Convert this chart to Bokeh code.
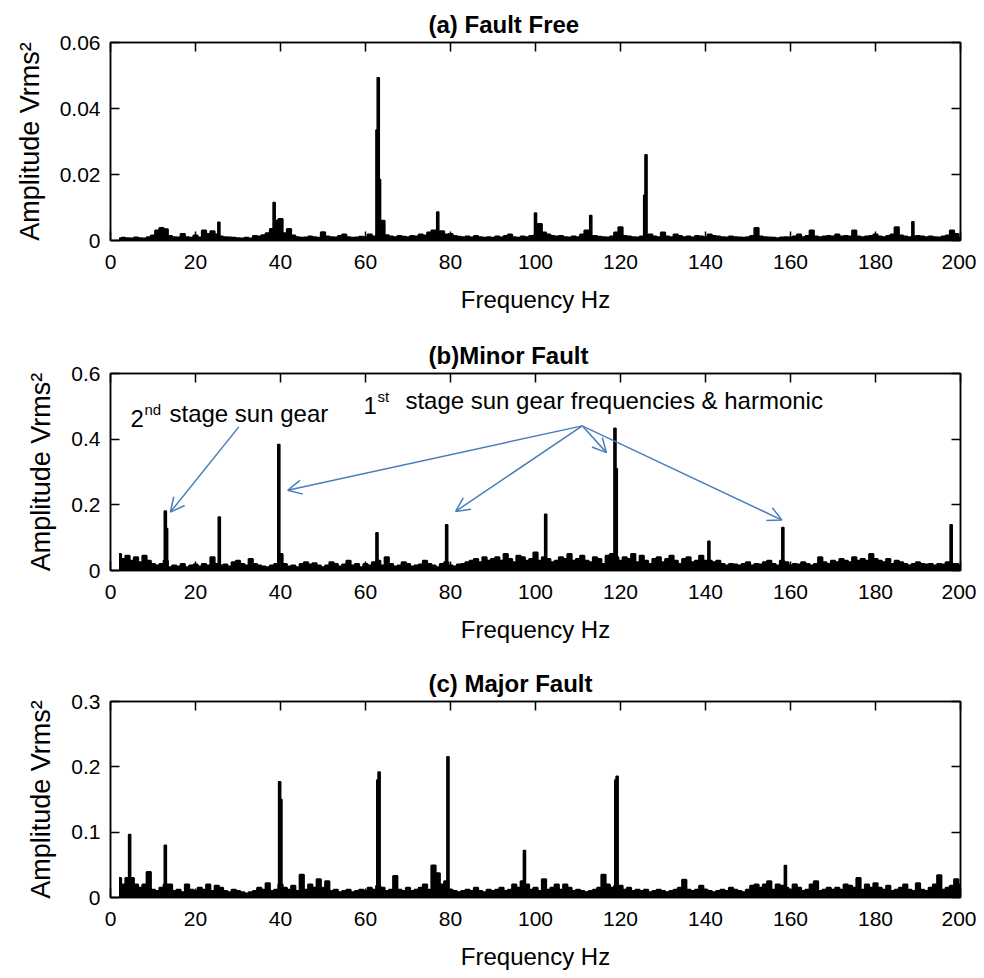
import numpy as np
from bokeh.plotting import figure
from bokeh.layouts import column
from bokeh.models import Range1d, FixedTicker, LinearAxis, Arrow, OpenHead, Label
from bokeh.embed import file_html
from bokeh.resources import INLINE

FONT = "Liberation Sans"
BLUE = "#4a7ebb"

# frequency bins (Hz) of the background spectrum
freq = list(range(2, 201))

# ---------------- (a) Fault Free ----------------
noise_a = [
    0.0006, 0.0008, 0.0007, 0.0006, 0.0009, 0.0007, 0.0006, 0.0010,
    0.0015, 0.0030, 0.0038, 0.0034, 0.0014, 0.0010, 0.0009, 0.0020, 0.0010, 0.0008,
    0.0015, 0.0009, 0.0030, 0.0020, 0.0028, 0.0018, 0.0012, 0.0010, 0.0009, 0.0008,
    0.0007, 0.0006, 0.0008, 0.0006, 0.0014, 0.0012, 0.0016, 0.0022, 0.0035, 0.0060,
    0.0065, 0.0022, 0.0035, 0.0015, 0.0010, 0.0008, 0.0009, 0.0012, 0.0010, 0.0008,
    0.0025, 0.0012, 0.0010, 0.0009, 0.0014, 0.0018, 0.0010, 0.0008, 0.0009, 0.0011,
    0.0010, 0.0018, 0.0012, 0.0015, 0.0060, 0.0016, 0.0012, 0.0010, 0.0014, 0.0011,
    0.0010, 0.0014, 0.0012, 0.0018, 0.0015, 0.0024, 0.0030, 0.0020, 0.0028, 0.0018,
    0.0020, 0.0014, 0.0011, 0.0010, 0.0012, 0.0009, 0.0014, 0.0010, 0.0008, 0.0010,
    0.0008, 0.0012, 0.0009, 0.0014, 0.0018, 0.0010, 0.0008, 0.0012, 0.0010, 0.0014,
    0.0015, 0.0050, 0.0024, 0.0018, 0.0014, 0.0012, 0.0014, 0.0010, 0.0009, 0.0012,
    0.0010, 0.0018, 0.0030, 0.0012, 0.0014, 0.0011, 0.0010, 0.0009, 0.0012, 0.0024,
    0.0040, 0.0014, 0.0012, 0.0010, 0.0009, 0.0012, 0.0015, 0.0018, 0.0012, 0.0010,
    0.0024, 0.0012, 0.0010, 0.0018, 0.0014, 0.0010, 0.0012, 0.0009, 0.0014, 0.0012,
    0.0010, 0.0018, 0.0014, 0.0012, 0.0010, 0.0009, 0.0012, 0.0010, 0.0009, 0.0008,
    0.0010, 0.0014, 0.0038, 0.0012, 0.0010, 0.0009, 0.0008, 0.0007, 0.0009, 0.0010,
    0.0009, 0.0012, 0.0018, 0.0010, 0.0014, 0.0030, 0.0012, 0.0010, 0.0012, 0.0014,
    0.0012, 0.0018, 0.0012, 0.0014, 0.0012, 0.0030, 0.0012, 0.0010, 0.0012, 0.0014,
    0.0018, 0.0012, 0.0010, 0.0014, 0.0018, 0.0040, 0.0015, 0.0012, 0.0010, 0.0012,
    0.0014, 0.0012, 0.0010, 0.0012, 0.0010, 0.0009, 0.0012, 0.0015, 0.0030, 0.0020,
    0.0010,
]
peak_f_a = [25.5, 38.5, 62.7, 63.0, 63.3, 77.0, 100.0, 113.0, 125.7, 126.0, 188.8]
peak_a_a = [0.0055, 0.0115, 0.0335, 0.0493, 0.0185, 0.0086, 0.0083, 0.0076, 0.0137, 0.0260, 0.0057]

# ---------------- (b) Minor Fault ----------------
noise_b = [
    0.050, 0.035, 0.045, 0.030, 0.040, 0.025, 0.045, 0.030,
    0.020, 0.015, 0.020, 0.030, 0.010, 0.015, 0.012, 0.020, 0.010, 0.015,
    0.018, 0.012, 0.020, 0.015, 0.040, 0.020, 0.015, 0.018, 0.012, 0.025,
    0.030, 0.020, 0.015, 0.035, 0.020, 0.015, 0.012, 0.010, 0.015, 0.020,
    0.050, 0.020, 0.012, 0.015, 0.010, 0.020, 0.025, 0.018, 0.022, 0.015,
    0.010, 0.015, 0.025, 0.020, 0.012, 0.018, 0.030, 0.015, 0.020, 0.010,
    0.020, 0.015, 0.025, 0.030, 0.015, 0.040, 0.020, 0.012, 0.015, 0.025,
    0.020, 0.012, 0.015, 0.018, 0.030, 0.020, 0.015, 0.010, 0.020, 0.025,
    0.015, 0.012, 0.018, 0.020, 0.025, 0.030, 0.035, 0.025, 0.040, 0.030,
    0.035, 0.040, 0.030, 0.050, 0.035, 0.025, 0.045, 0.040, 0.030, 0.035,
    0.055, 0.030, 0.040, 0.035, 0.025, 0.030, 0.040, 0.035, 0.050, 0.030,
    0.035, 0.045, 0.030, 0.025, 0.040, 0.035, 0.020, 0.045, 0.050, 0.040,
    0.030, 0.040, 0.035, 0.050, 0.025, 0.045, 0.030, 0.020, 0.035, 0.040,
    0.025, 0.035, 0.045, 0.030, 0.020, 0.035, 0.040, 0.025, 0.030, 0.045,
    0.030, 0.030, 0.025, 0.030, 0.020, 0.015, 0.020, 0.018, 0.015, 0.020,
    0.025, 0.015, 0.020, 0.018, 0.025, 0.030, 0.020, 0.015, 0.030, 0.025,
    0.015, 0.020, 0.018, 0.025, 0.020, 0.015, 0.020, 0.040, 0.025, 0.020,
    0.030, 0.025, 0.035, 0.030, 0.025, 0.040, 0.030, 0.035, 0.030, 0.050,
    0.035, 0.030, 0.025, 0.035, 0.020, 0.030, 0.025, 0.020, 0.015, 0.020,
    0.025, 0.020, 0.018, 0.020, 0.015, 0.020, 0.018, 0.025, 0.020, 0.020,
    0.015,
]
peak_f_b = [12.9, 13.2, 25.6, 39.6, 62.7, 79.1, 102.4, 118.7, 119.0, 140.8, 158.2, 197.8]
peak_a_b = [0.181, 0.128, 0.163, 0.384, 0.115, 0.139, 0.171, 0.433, 0.310, 0.089, 0.131, 0.139]

# ---------------- (c) Major Fault ----------------
noise_c = [
    0.030, 0.020, 0.030, 0.030, 0.020, 0.015, 0.020, 0.039,
    0.012, 0.010, 0.015, 0.020, 0.020, 0.010, 0.012, 0.008, 0.020, 0.012,
    0.010, 0.015, 0.012, 0.020, 0.010, 0.018, 0.015, 0.010, 0.008, 0.012,
    0.010, 0.008, 0.006, 0.008, 0.010, 0.015, 0.012, 0.022, 0.010, 0.012,
    0.020, 0.015, 0.012, 0.018, 0.010, 0.035, 0.012, 0.020, 0.015, 0.028,
    0.015, 0.025, 0.010, 0.012, 0.008, 0.010, 0.012, 0.008, 0.010, 0.012,
    0.010, 0.015, 0.012, 0.018, 0.015, 0.010, 0.012, 0.033, 0.012, 0.010,
    0.015, 0.010, 0.012, 0.015, 0.020, 0.012, 0.049, 0.037, 0.020, 0.025,
    0.012, 0.010, 0.008, 0.010, 0.012, 0.010, 0.015, 0.010, 0.008, 0.012,
    0.010, 0.012, 0.015, 0.010, 0.012, 0.020, 0.015, 0.025, 0.020, 0.012,
    0.015, 0.010, 0.028, 0.012, 0.015, 0.020, 0.012, 0.020, 0.015, 0.010,
    0.012, 0.010, 0.008, 0.010, 0.012, 0.015, 0.035, 0.020, 0.015, 0.018,
    0.018, 0.012, 0.015, 0.010, 0.012, 0.010, 0.012, 0.008, 0.010, 0.012,
    0.010, 0.008, 0.010, 0.012, 0.015, 0.027, 0.012, 0.010, 0.012, 0.018,
    0.012, 0.010, 0.008, 0.010, 0.012, 0.010, 0.015, 0.012, 0.010, 0.008,
    0.012, 0.018, 0.020, 0.015, 0.020, 0.025, 0.012, 0.020, 0.018, 0.015,
    0.012, 0.020, 0.015, 0.010, 0.012, 0.020, 0.025, 0.010, 0.012, 0.015,
    0.012, 0.015, 0.012, 0.020, 0.018, 0.015, 0.030, 0.012, 0.020, 0.015,
    0.022, 0.015, 0.012, 0.018, 0.010, 0.012, 0.015, 0.020, 0.012, 0.010,
    0.022, 0.012, 0.010, 0.015, 0.020, 0.034, 0.012, 0.015, 0.018, 0.028,
    0.020,
]
peak_f_c = [4.5, 12.9, 39.8, 40.1, 62.9, 63.2, 79.4, 97.4, 118.9, 119.2, 158.8]
peak_a_c = [0.0965, 0.080, 0.177, 0.150, 0.180, 0.192, 0.2155, 0.072, 0.180, 0.1855, 0.049]

x_ticks = [0, 20, 40, 60, 80, 100, 120, 140, 160, 180, 200]
y_ticks_a = [0, 0.02, 0.04, 0.06]
y_ticks_b = [0, 0.2, 0.4, 0.6]
y_ticks_c = [0, 0.1, 0.2, 0.3]

for arr in (noise_a, noise_b, noise_c):
    assert len(arr) == len(freq)


def style_axis(ax, ticks, labels=True):
    ax.ticker = FixedTicker(ticks=ticks)
    ax.major_tick_in = 9
    ax.major_tick_out = 0
    ax.minor_tick_line_color = None
    ax.axis_line_color = "black"
    ax.axis_line_width = 1.5
    ax.major_tick_line_color = "black"
    ax.major_tick_line_width = 1.5
    if labels:
        ax.major_label_text_font = FONT
        ax.major_label_text_font_size = "21px"
        ax.major_label_text_color = "black"
        ax.axis_label_text_font = FONT
        ax.axis_label_text_font_size = "24px"
        ax.axis_label_text_font_style = "normal"
        ax.axis_label_text_color = "black"
    else:
        ax.major_label_text_font_size = "0px"
        ax.major_label_overrides = {t: "" for t in ticks}
        ax.major_label_standoff = 0


def make_panel(title, noise, pk_f, pk_a, ymax, yticks, height, top, bottom):
    p = figure(width=976, height=height, output_backend="svg", toolbar_location=None,
               x_range=Range1d(0, 200), y_range=Range1d(0, ymax),
               min_border_left=110, min_border_right=16,
               min_border_top=top, min_border_bottom=bottom)
    p.title.text = title
    p.title.text_font = FONT
    p.title.text_font_size = "24px"
    p.title.text_font_style = "bold"
    p.title.text_color = "black"
    p.title.align = "left"
    p.title.offset = 318
    p.title.standoff = 9
    p.grid.visible = False
    p.outline_line_color = "black"
    p.outline_line_width = 1.5
    p.background_fill_color = "white"
    p.border_fill_color = "white"

    p.varea_step(x=freq, y1=0, y2=noise, step_mode="center", fill_color="black")
    p.step(freq, noise, mode="center", line_color="black", line_width=2)
    p.vbar(x=pk_f, top=pk_a, bottom=0, width=0.5, fill_color="black",
           line_color="black", line_width=1.5)

    style_axis(p.xaxis[0], x_ticks)
    style_axis(p.yaxis[0], yticks)
    p.xaxis[0].axis_label = "Frequency Hz"
    p.xaxis[0].major_label_standoff = 14
    p.xaxis[0].axis_label_standoff = 14
    p.yaxis[0].axis_label = "Amplitude Vrms\u00b2"
    p.yaxis[0].major_label_standoff = 10
    p.yaxis[0].axis_label_standoff = 12
    p.yaxis[0].axis_label_text_font_size = "27px"
    p.yaxis[0].major_label_overrides = {0: "0"}

    ax_top = LinearAxis()
    style_axis(ax_top, x_ticks, labels=False)
    p.add_layout(ax_top, "above")
    ax_right = LinearAxis()
    style_axis(ax_right, yticks, labels=False)
    p.add_layout(ax_right, "right")
    return p


pa = make_panel("(a)  Fault Free", noise_a, peak_f_a, peak_a_a, 0.06, y_ticks_a, 335, 42, 95)
pb = make_panel("(b)Minor Fault", noise_b, peak_f_b, peak_a_b, 0.6, y_ticks_b, 328, 33, 93)
pc = make_panel("(c) Major Fault", noise_c, peak_f_c, peak_a_c, 0.3, y_ticks_c, 315, 34, 81)

# ---- annotations in panel (b) ----
ann_font = "24px"
sup_font = "15px"
pb.add_layout(Label(x=4.7, y=0.4375, text="2", text_font=FONT, text_font_size=ann_font,
                    text_color="black"))
pb.add_layout(Label(x=4.7, y=0.4375 + 0.027, x_offset=14, text="nd", text_font=FONT,
                    text_font_size=sup_font, text_color="black"))
pb.add_layout(Label(x=4.7, y=0.4375, x_offset=39, text="stage sun gear", text_font=FONT,
                    text_font_size=ann_font, text_color="black"))

pb.add_layout(Label(x=59.5, y=0.477, text="1", text_font=FONT, text_font_size=ann_font,
                    text_color="black"))
pb.add_layout(Label(x=59.5, y=0.477 + 0.027, x_offset=14, text="st", text_font=FONT,
                    text_font_size=sup_font, text_color="black"))
pb.add_layout(Label(x=59.5, y=0.477, x_offset=42, text="stage sun gear frequencies & harmonic",
                    text_font=FONT, text_font_size=ann_font, text_color="black"))

arrow_start = [(30.2, 0.4375), (111.0, 0.4405), (111.0, 0.4405), (111.0, 0.4405), (111.0, 0.4405)]
arrow_end = [(14.1, 0.178), (41.7, 0.2444), (81.2, 0.180), (116.7, 0.359), (158.0, 0.1535)]
for (xs, ys), (xe, ye) in zip(arrow_start, arrow_end):
    pb.add_layout(Arrow(x_start=xs, y_start=ys, x_end=xe, y_end=ye,
                        line_color=BLUE, line_width=1.5,
                        end=OpenHead(size=14, line_color=BLUE, line_width=1.5)))

layout = column(pa, pb, pc, spacing=0)
open("out.html", "w").write(file_html(layout, INLINE))
